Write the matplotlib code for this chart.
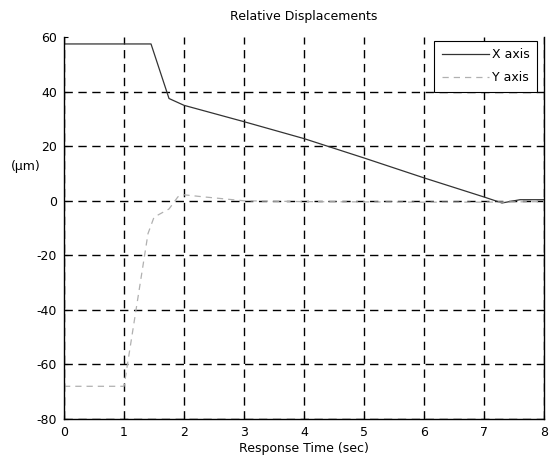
import matplotlib.pyplot as plt
import numpy as np

# X axis response
x_t = [0, 1.45, 1.75, 2.0, 3.0, 4.0, 5.0, 6.0, 7.0, 7.3, 7.6, 8.0]
x_d = [57.5, 57.5, 37.5, 35.0, 29.0, 22.8, 15.7, 8.4, 1.4, -0.8, 0.4, 0.4]

# Y axis response
y_t = [0, 1.0, 1.4, 1.5, 1.75, 1.9, 2.0, 2.3, 3.0, 4.0, 5.0, 6.0, 7.0, 8.0]
y_d = [-68, -68, -12, -6, -3, 1.5, 2.2, 1.5, 0, -0.3, -0.4, -0.5, -0.5, -0.3]

xticks = np.arange(0, 9, 1)
yticks = np.arange(-80, 61, 20)

plt.rcParams['font.family'] = ['DejaVu Sans']
plt.rcParams['axes.unicode_minus'] = False

fig = plt.figure(figsize=(5.5, 4.59), dpi=100)
ax = fig.add_axes([0.1164, 0.0871, 0.8727, 0.832])

ax.plot(x_t, x_d, color='#333333', lw=0.9, ls='-', label='X axis')
ax.plot(y_t, y_d, color='#b0b0b0', lw=0.9, ls=(0, (5, 4)), label='Y axis')

ax.set_xlim(0, 8)
ax.set_ylim(-80, 60)
ax.set_xticks(xticks)
ax.set_yticks(yticks)
ax.tick_params(direction='in', length=3, labelsize=9, pad=5)
ax.grid(True, color='black', ls=(0, (6, 4)), lw=1.0)
ax.yaxis.get_gridlines()[-1].set_visible(False)
ax.spines['top'].set_visible(False)
for s in ['left', 'right', 'bottom']:
    ax.spines[s].set_linewidth(1.0)

ax.set_title('Relative Displacements', fontsize=9, pad=12)
ax.set_xlabel('Response Time (sec)', fontsize=9, labelpad=2)
ax.set_ylabel('(μm)', fontsize=9, rotation=0)
ax.yaxis.set_label_coords(-0.08, 0.645)

leg = ax.legend(loc='lower right', bbox_to_anchor=(0.985, 120 / 140), borderaxespad=0,
                fontsize=9, labelspacing=0.8, borderpad=0.6, handlelength=3.8,
                handletextpad=0.2, fancybox=False, framealpha=1)
leg.get_frame().set_edgecolor('black')
leg.get_frame().set_linewidth(0.8)

plt.savefig('out.png', dpi=100)
